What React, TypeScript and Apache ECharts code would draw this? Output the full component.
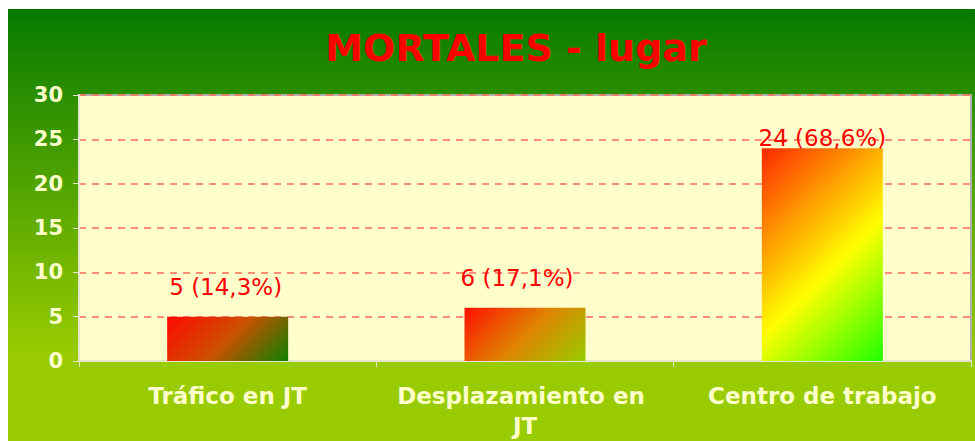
import React, { useEffect, useRef } from "react";
import * as echarts from "echarts";

const categories = ["Tráfico en JT", "Desplazamiento en JT", "Centro de trabajo"];
const values = [5, 6, 24];
const percents = [14.3, 17.1, 68.6];
const yTicks = { min: 0, max: 30, interval: 5 };
const titleText = "MORTALES - lugar";

const FONT = "'DejaVu Sans', Verdana, sans-serif";

const barFills = [
  { x2: 1.2, y2: 0.44, stops: [["#FF0800", 0], ["#CC5000", 0.5], ["#0E8000", 1]] },
  { x2: 1.2, y2: 0.53, stops: [["#FF1000", 0], ["#E08200", 0.5], ["#99CC00", 1]] },
  { x2: 0.67, y2: 1.19, stops: [["#FF2800", 0], ["#FFFF00", 0.57], ["#1EFF00", 1]] },
];
const labelDistances = [18, 18, -1];
const labelShiftX = [-2, -8, 0];

export default function App() {
  const ref = useRef<HTMLDivElement>(null);
  useEffect(() => {
    if (!ref.current) return;
    const chart = echarts.init(ref.current, undefined, { renderer: "svg" });
    chart.setOption({
      animation: false,
      title: {
        text: titleText,
        left: 503,
        textAlign: "center",
        top: 15,
        textStyle: { color: "#FF0000", fontFamily: FONT, fontWeight: "bold", fontSize: 38 },
      },
      grid: {
        left: 71,
        right: 4,
        top: 86,
        bottom: 80,
        show: true,
        backgroundColor: "#FFFFCC",
        borderColor: "#B0B0B0",
        borderWidth: 2,
      },
      xAxis: {
        type: "category",
        data: categories,
        axisLine: { lineStyle: { color: "#E6E6CC", width: 2 } },
        axisTick: { show: true, length: 6, lineStyle: { color: "#E6E6CC" } },
        axisLabel: {
          color: "#FFFFCC",
          fontFamily: FONT,
          fontWeight: "bold",
          fontSize: 23,
          margin: 20,
          lineHeight: 30,
          width: 262,
          overflow: "break",
          interval: 0,
        },
      },
      yAxis: {
        type: "value",
        min: yTicks.min,
        max: yTicks.max,
        interval: yTicks.interval,
        axisLine: { show: true, lineStyle: { color: "#E6E6CC", width: 2 } },
        axisTick: { show: true, length: 6, lineStyle: { color: "#E6E6CC" } },
        axisLabel: {
          color: "#FFFFCC",
          fontFamily: FONT,
          fontWeight: "bold",
          fontSize: 21,
          margin: 16,
        },
        splitLine: {
          show: true,
          lineStyle: { color: "#FF6A5A", type: [7, 6], width: 1.5 },
        },
      },
      series: [
        {
          type: "bar",
          barWidth: 121,
          data: values.map((v, i) => ({
            value: v,
            itemStyle: {
              color: new echarts.graphic.LinearGradient(
                0,
                0,
                barFills[i].x2,
                barFills[i].y2,
                barFills[i].stops.map(([c, o]) => ({ offset: o as number, color: c as string }))
              ),
            },
            label: { distance: labelDistances[i], offset: [labelShiftX[i], 0] },
          })),
          label: {
            show: true,
            position: "top",
            color: "#FF0000",
            fontFamily: FONT,
            fontSize: 23,
            formatter: (p: any) =>
              `${p.value} (${percents[p.dataIndex].toFixed(1).replace(".", ",")}%)`,
          },
        },
      ],
    });
    return () => chart.dispose();
  }, []);
  return (
    <div
      ref={ref}
      style={{
        position: "absolute",
        left: 8,
        top: 9,
        width: 967,
        height: 432,
        background: "linear-gradient(#067A00 0%, #99CC00 80%, #99CC00 100%)",
      }}
    />
  );
}
